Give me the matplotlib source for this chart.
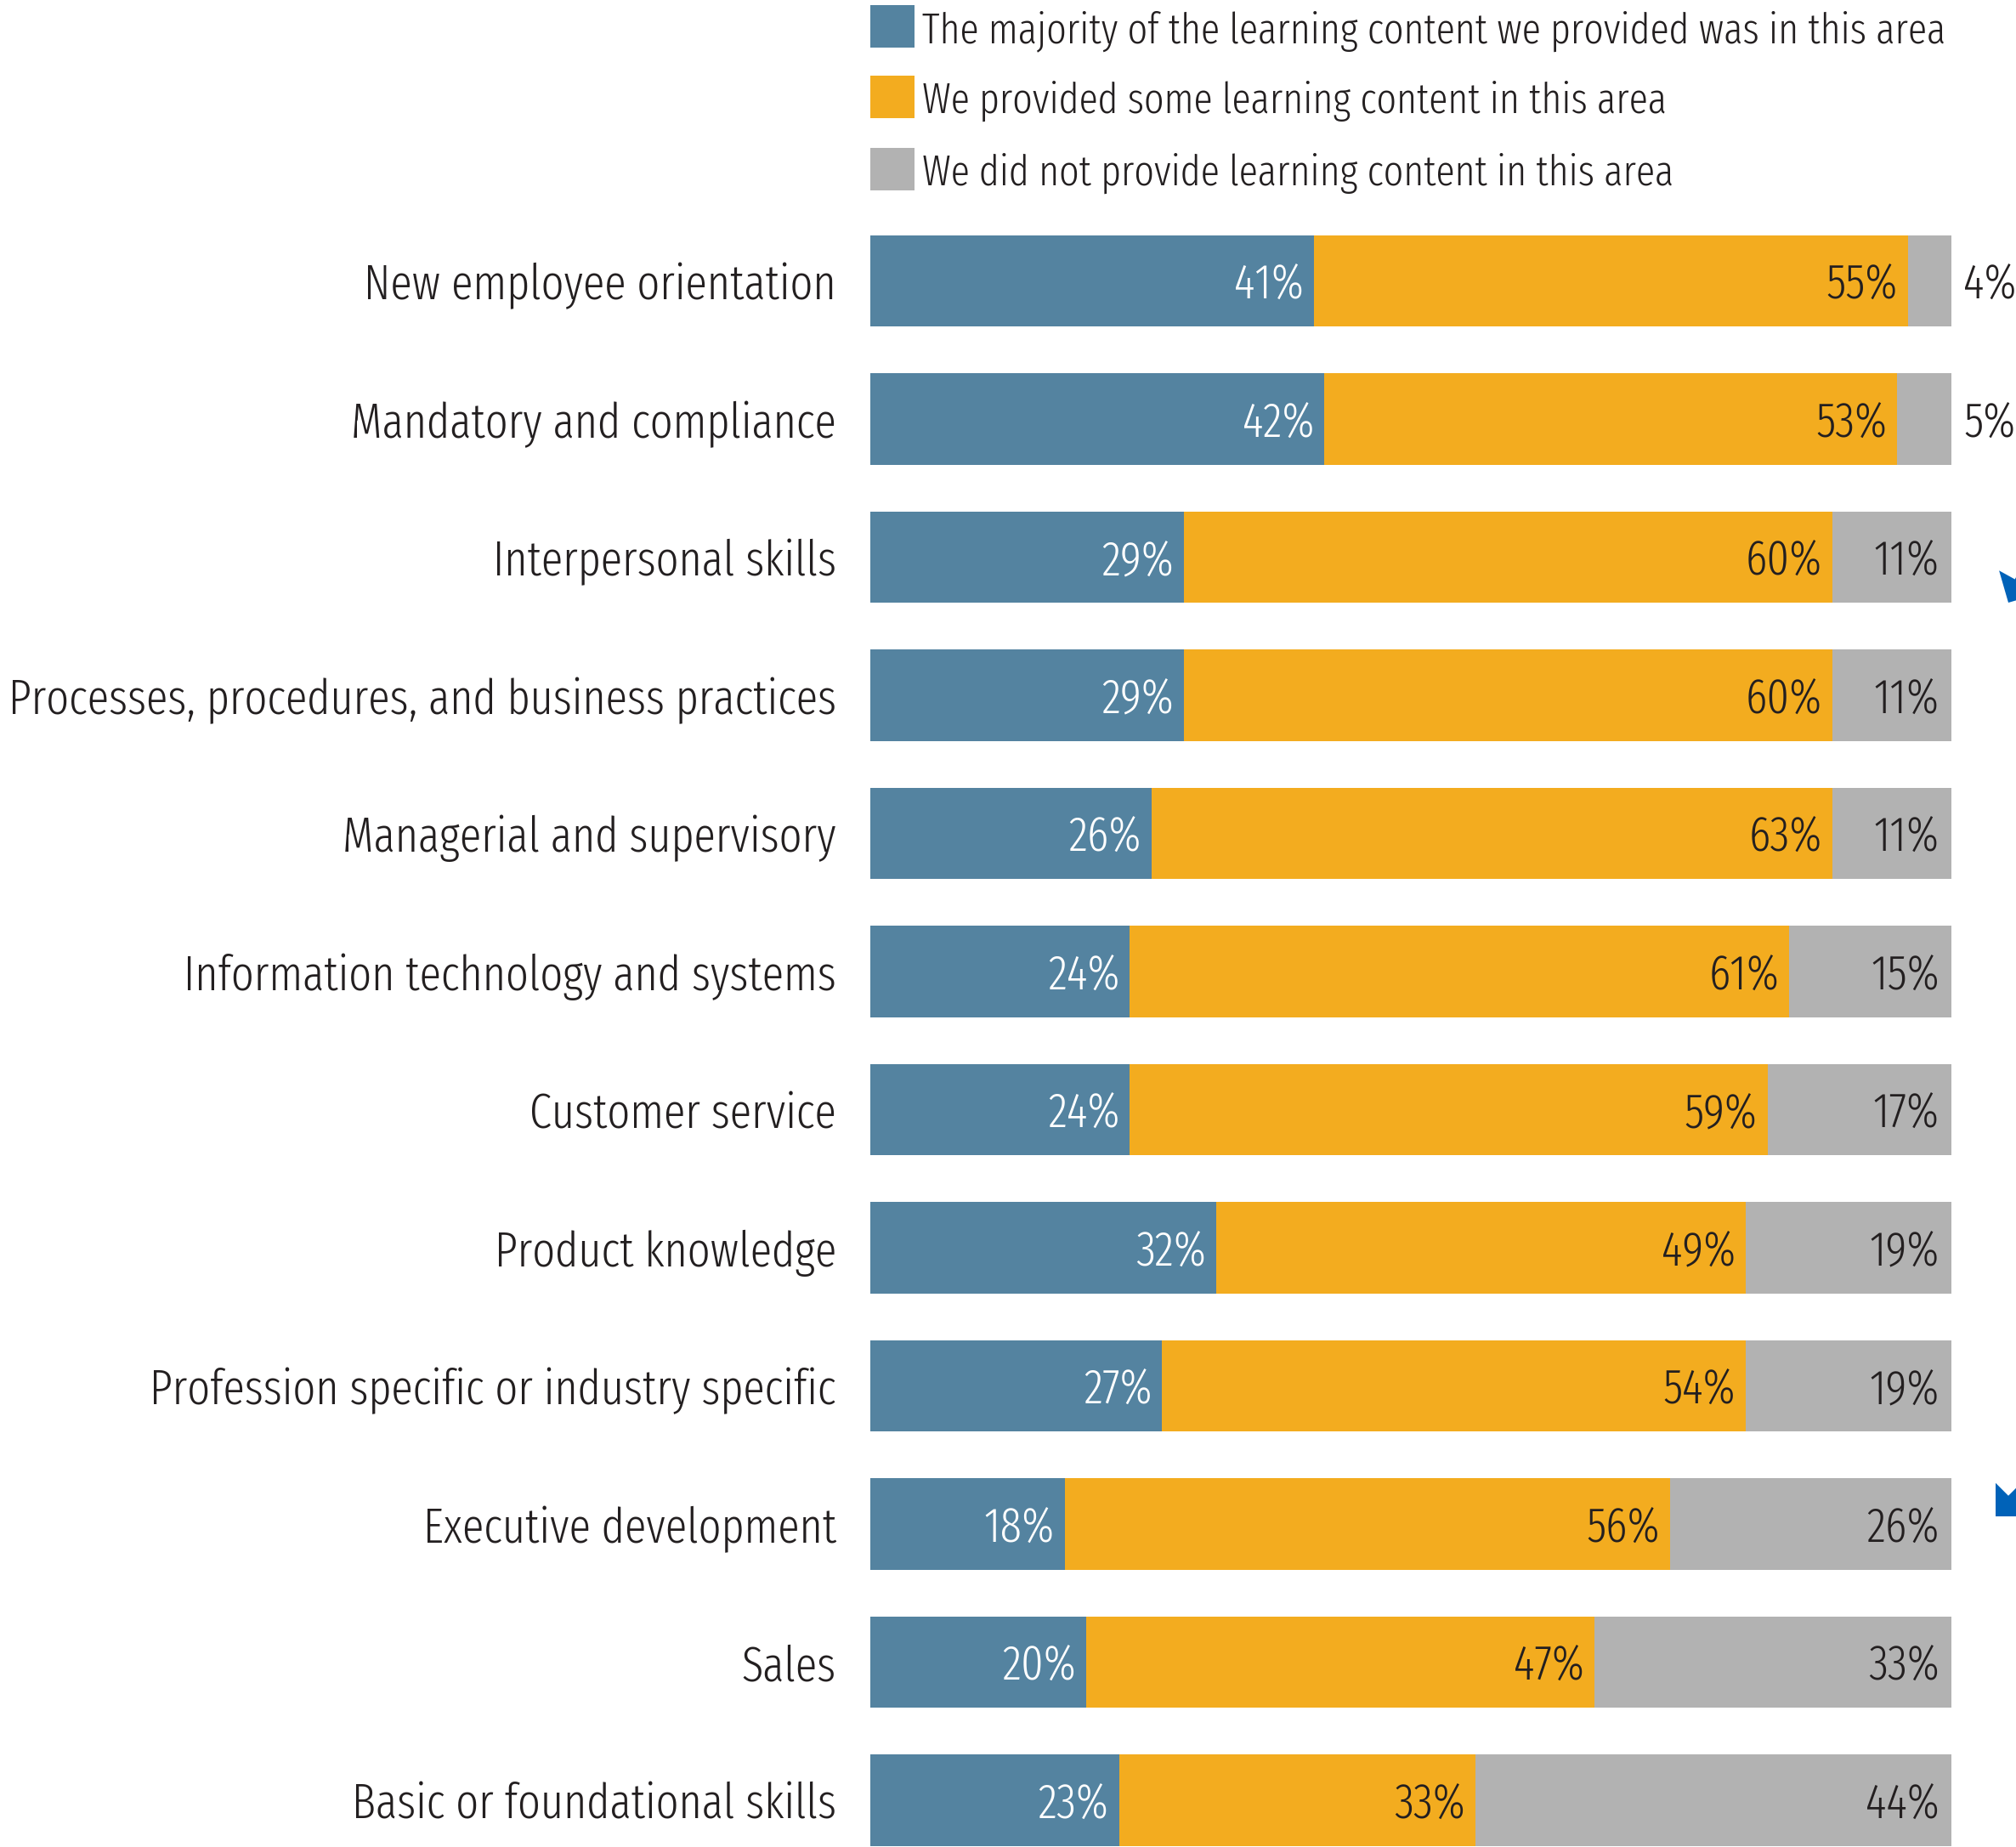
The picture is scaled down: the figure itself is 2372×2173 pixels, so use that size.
import matplotlib
matplotlib.use('Agg')
import matplotlib.pyplot as plt
from matplotlib import font_manager
from matplotlib.patches import Rectangle, FancyArrowPatch

# narrow face like the original report; DejaVu condensed if it is missing
names = set(f.name for f in font_manager.fontManager.ttflist)
if 'Fira Sans Extra Condensed' in names:
  FONT = dict(family=['Fira Sans Extra Condensed', 'DejaVu Sans'], weight=300)
else:
  FONT = dict(family=['DejaVu Sans'], stretch='condensed')

categories = ['New employee orientation', 'Mandatory and compliance',
              'Interpersonal skills', 'Processes, procedures, and business practices',
              'Managerial and supervisory', 'Information technology and systems',
              'Customer service', 'Product knowledge',
              'Profession specific or industry specific', 'Executive development',
              'Sales', 'Basic or foundational skills']
majority = [41, 42, 29, 29, 26, 24, 24, 32, 27, 18, 20, 23]
some = [55, 53, 60, 60, 63, 61, 59, 49, 54, 56, 47, 33]
none_ = [4, 5, 11, 11, 11, 15, 17, 19, 19, 26, 33, 44]
series_names = ['The majority of the learning content we provided was in this area',
                'We provided some learning content in this area',
                'We did not provide learning content in this area']

BLUE = '#5483a0'
ORANGE = '#f3ac1f'
GRAY = '#b2b2b2'
DARK = '#231f20'

W, H = 2372, 2173
fig = plt.figure(figsize=(W / 100, H / 100), dpi=100)
ax = fig.add_axes([1024 / W, 0, (2296 - 1024) / W, 1])

ypos = list(range(len(categories)))
h = 0.66
ax.barh(ypos, majority, height=h, color=BLUE, linewidth=0)
ax.barh(ypos, some, left=majority, height=h, color=ORANGE, linewidth=0)
left3 = [a + b for a, b in zip(majority, some)]
ax.barh(ypos, none_, left=left3, height=h, color=GRAY, linewidth=0)

ax.set_xlim(0, 100)
ax.set_ylim(11.338, -2.034)
ax.axis('off')

fs_val = 41
for i in ypos:
  a, b, c = majority[i], some[i], none_[i]
  ax.annotate('%d%%' % a, (a, i), xytext=(-12, 0), textcoords='offset pixels',
              ha='right', va='center_baseline', color='white', fontsize=fs_val, **FONT)
  ax.annotate('%d%%' % b, (a + b, i), xytext=(-12, 0), textcoords='offset pixels',
              ha='right', va='center_baseline', color=DARK, fontsize=fs_val, **FONT)
  if c < 8:
    ax.annotate('%d%%' % c, (100, i), xytext=(14, 0), textcoords='offset pixels',
                ha='left', va='center_baseline', color=DARK, fontsize=fs_val,
                annotation_clip=False, **FONT)
  else:
    ax.annotate('%d%%' % c, (100, i), xytext=(-14, 0), textcoords='offset pixels',
                ha='right', va='center_baseline', color=DARK, fontsize=fs_val, **FONT)
  ax.annotate(categories[i], (0, i), xytext=(-40, 0), textcoords='offset pixels',
              ha='right', va='center_baseline', color=DARK, fontsize=41,
              annotation_clip=False, **FONT)

# legend drawn by hand at the top
leg_y = [-1.843, -1.332, -0.809]
for yy, col, name in zip(leg_y, [BLUE, ORANGE, GRAY], series_names):
  ax.add_patch(Rectangle((0, yy - 0.154), 4.1, 0.308, color=col, linewidth=0, clip_on=False))
  ax.annotate(name, (4.1, yy), xytext=(9, 0), textcoords='offset pixels',
              ha='left', va='center_baseline', color=DARK, fontsize=36,
              annotation_clip=False, **FONT)

# bits of blue arrows cut off at the right edge
arrow_kw = dict(arrowstyle='simple,head_length=1.0,head_width=2.0,tail_width=0.47',
                color='#0062b8', lw=0, shrinkA=0, shrinkB=0, mutation_scale=20,
                transform=None)
fig.add_artist(FancyArrowPatch((2508, H - 446), (2363, H - 709), **arrow_kw))
fig.add_artist(FancyArrowPatch((2548, H - 1584), (2348, H - 1784), **arrow_kw))

fig.savefig('out.png', dpi=100)
